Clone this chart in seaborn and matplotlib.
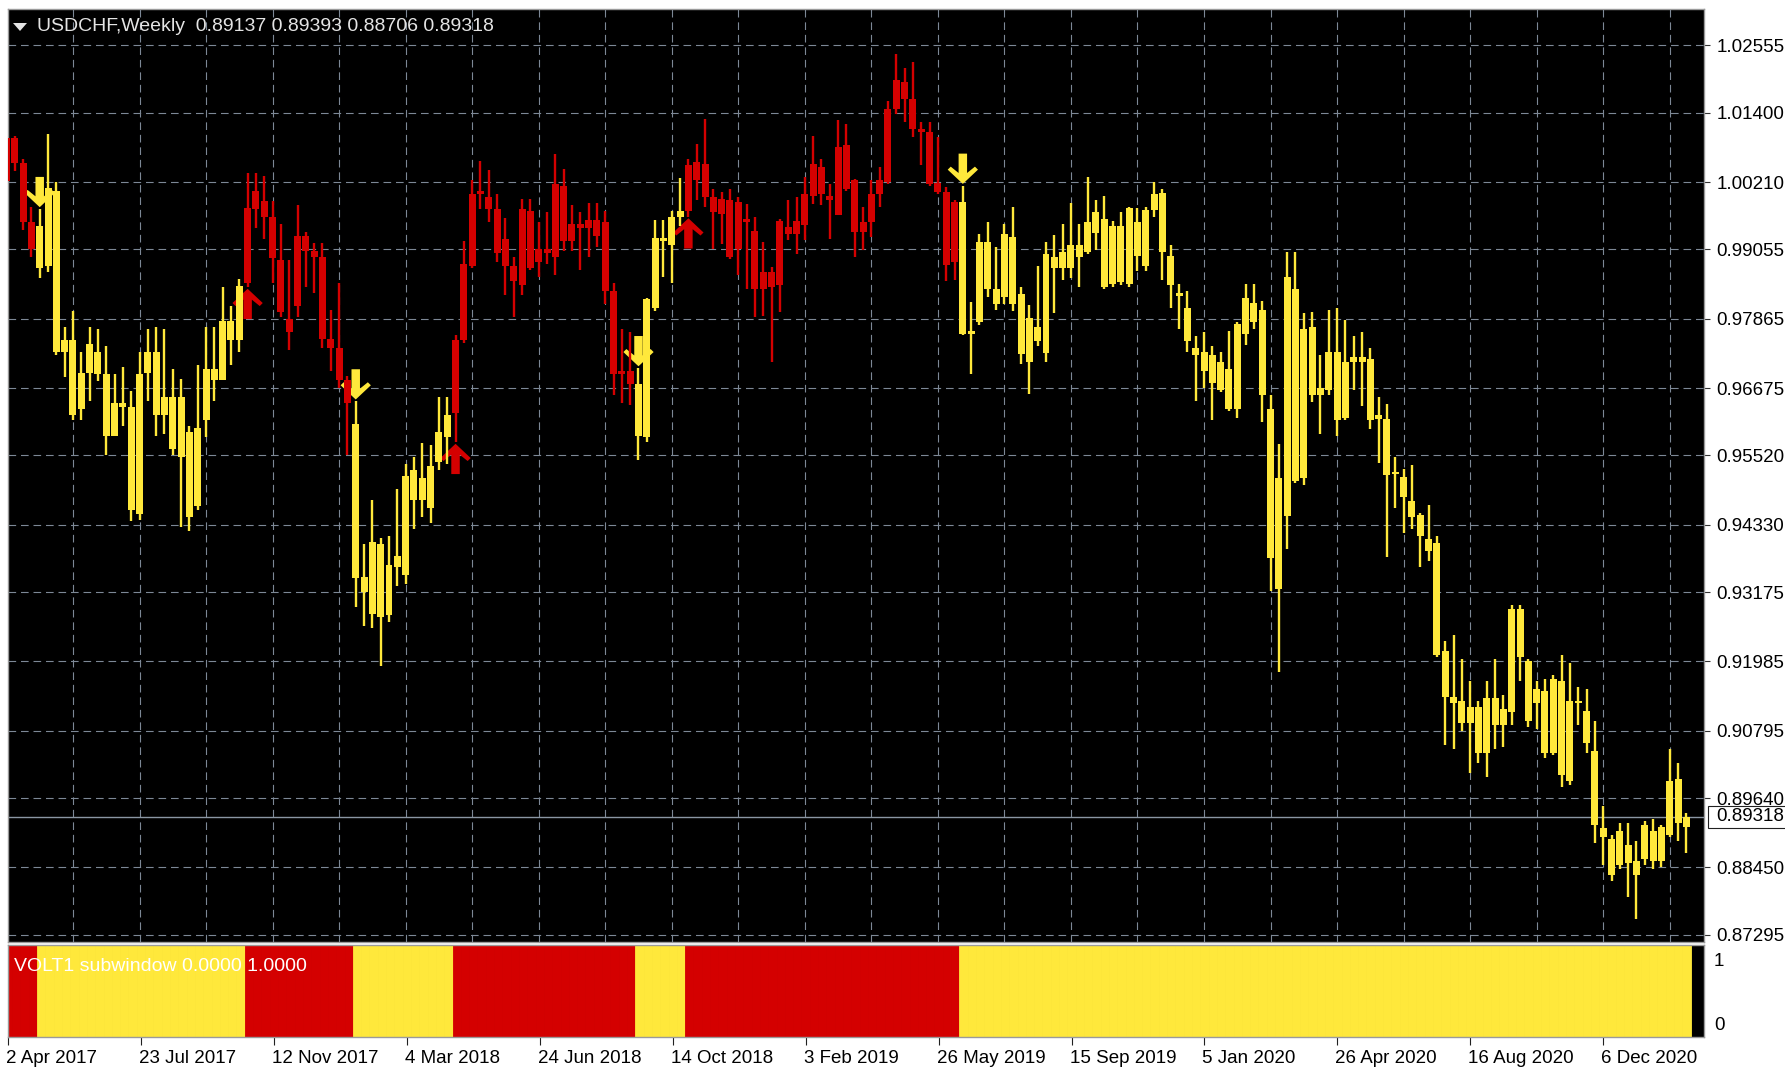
import numpy as np
import pandas as pd
import matplotlib
matplotlib.use("Agg")
import matplotlib.pyplot as plt
import matplotlib.transforms as mtransforms
from matplotlib.patches import Rectangle, Polygon
from matplotlib.path import Path
import seaborn as sns

start_date = "2017-04-02"

open_ = [
    1.0023, 1.0096, 1.0054, 0.9952, 0.9874, 0.9877, 1.0005, 0.9730, 0.9750, 0.9632,
    0.9694, 0.9730, 0.9691, 0.9586, 0.9642, 0.9635, 0.9452, 0.9694, 0.9730, 0.9622,
    0.9652, 0.9550, 0.9593, 0.9465, 0.9612, 0.9700, 0.9681, 0.9782, 0.9750, 0.9848,
    0.9975, 0.9988, 0.9962, 0.9887, 0.9786, 0.9809, 0.9929, 0.9903, 0.9893, 0.9751,
    0.9736, 0.9681, 0.9606, 0.9344, 0.9280, 0.9400, 0.9279, 0.9361, 0.9347, 0.9527,
    0.9475, 0.9462, 0.9540, 0.9583, 0.9625, 0.9750, 0.9877, 1.0001, 0.9995, 0.9975,
    0.9923, 0.9877, 0.9844, 0.9972, 0.9884, 0.9906, 0.9893, 1.0014, 0.9920, 0.9949,
    0.9943, 0.9956, 0.9952, 0.9835, 0.9691, 0.9697, 0.9674, 0.9583, 0.9805, 0.9926,
    0.9913, 0.9962, 0.9972, 1.0024, 1.0052, 0.9995, 0.9967, 0.9990, 0.9907, 0.9958,
    0.9938, 0.9838, 0.9867, 0.9844, 0.9944, 0.9932, 0.9947, 0.9998, 1.0047, 0.9998,
    0.9964, 1.0084, 1.0024, 0.9935, 0.9952, 1.0001, 1.0021, 1.0147, 1.0193, 1.0164,
    1.0113, 1.0107, 1.0019, 1.0004, 0.9884, 0.9987, 0.9761, 0.9781, 0.9918, 0.9838,
    0.9824, 0.9927, 0.9829, 0.9712, 0.9772, 0.9727, 0.9892, 0.9874, 0.9874, 0.9913,
    0.9901, 0.9934, 0.9958, 0.9847, 0.9946, 0.9847, 0.9952, 0.9877, 0.9973, 1.0003,
    0.9895, 0.9830, 0.9805, 0.9736, 0.9730, 0.9724, 0.9712, 0.9700, 0.9631, 0.9760,
    0.9814, 0.9802, 0.9631, 0.9322, 0.9448, 0.9838, 0.9514, 0.9772, 0.9655, 0.9664,
    0.9730, 0.9616, 0.9712, 0.9721, 0.9718, 0.9615, 0.9615, 0.9521, 0.9515, 0.9474,
    0.9450, 0.9409, 0.9402, 0.9217, 0.9138, 0.9131, 0.9093, 0.9121, 0.9042, 0.9135,
    0.9090, 0.9111, 0.9289, 0.9200, 0.9128, 0.9148, 0.9042, 0.9165, 0.8994, 0.9131,
    0.9114, 0.9045, 0.8913, 0.8894, 0.8850, 0.8884, 0.8856, 0.8860, 0.8908, 0.8856,
    0.8901, 0.8997, 0.89137]

high = [
    1.0109, 1.0100, 1.0060, 0.9979, 0.9975, 1.0103, 1.0021, 0.9772, 0.9800, 0.9730,
    0.9772, 0.9769, 0.9740, 0.9691, 0.9704, 0.9662, 0.9730, 0.9769, 0.9772, 0.9769,
    0.9700, 0.9684, 0.9603, 0.9707, 0.9772, 0.9772, 0.9841, 0.9808, 0.9855, 1.0036,
    1.0037, 1.0031, 0.9988, 0.9949, 0.9887, 0.9982, 0.9936, 0.9916, 0.9916, 0.9802,
    0.9848, 0.9688, 0.9645, 0.9400, 0.9475, 0.9410, 0.9413, 0.9495, 0.9537, 0.9550,
    0.9573, 0.9570, 0.9652, 0.9652, 0.9759, 0.9920, 1.0024, 1.0057, 1.0041, 1.0001,
    0.9959, 0.9893, 0.9992, 0.9992, 0.9952, 0.9969, 1.0070, 1.0044, 0.9982, 0.9969,
    0.9985, 0.9985, 0.9972, 0.9848, 0.9769, 0.9763, 0.9702, 0.9822, 0.9956, 0.9956,
    0.9972, 1.0028, 1.0060, 1.0087, 1.0130, 1.0010, 1.0004, 1.0010, 0.9995, 0.9984,
    0.9961, 0.9918, 0.9875, 0.9958, 0.9990, 0.9995, 1.0030, 1.0101, 1.0061, 1.0018,
    1.0127, 1.0121, 1.0027, 0.9978, 1.0024, 1.0047, 1.0161, 1.0241, 1.0216, 1.0227,
    1.0124, 1.0124, 1.0098, 1.0012, 0.9991, 1.0015, 0.9815, 0.9932, 0.9952, 0.9909,
    0.9949, 0.9978, 0.9841, 0.9811, 0.9877, 0.9919, 0.9931, 0.9949, 0.9985, 0.9949,
    1.0030, 0.9991, 0.9997, 0.9955, 0.9970, 0.9979, 0.9976, 0.9979, 1.0021, 1.0009,
    0.9913, 0.9847, 0.9835, 0.9757, 0.9763, 0.9739, 0.9730, 0.9766, 0.9781, 0.9847,
    0.9847, 0.9817, 0.9655, 0.9571, 0.9901, 0.9901, 0.9796, 0.9799, 0.9724, 0.9802,
    0.9805, 0.9784, 0.9757, 0.9763, 0.9736, 0.9653, 0.9640, 0.9550, 0.9529, 0.9536,
    0.9454, 0.9467, 0.9413, 0.9234, 0.9244, 0.9203, 0.9165, 0.9131, 0.9165, 0.9203,
    0.9141, 0.9296, 0.9296, 0.9203, 0.9165, 0.9169, 0.9176, 0.9210, 0.9196, 0.9155,
    0.9152, 0.9097, 0.8951, 0.8901, 0.8922, 0.8922, 0.8891, 0.8925, 0.8929, 0.8918,
    0.9049, 0.9025, 0.89393]

low = [
    1.0008, 1.0040, 0.9939, 0.9893, 0.9857, 0.9867, 0.9725, 0.9687, 0.9612, 0.9612,
    0.9645, 0.9680, 0.9553, 0.9586, 0.9603, 0.9439, 0.9442, 0.9645, 0.9586, 0.9589,
    0.9553, 0.9429, 0.9423, 0.9459, 0.9583, 0.9645, 0.9681, 0.9707, 0.9730, 0.9841,
    0.9943, 0.9923, 0.9848, 0.9789, 0.9733, 0.9789, 0.9841, 0.9831, 0.9736, 0.9697,
    0.9668, 0.9553, 0.9292, 0.9259, 0.9256, 0.9190, 0.9266, 0.9328, 0.9331, 0.9426,
    0.9446, 0.9436, 0.9527, 0.9537, 0.9575, 0.9745, 0.9874, 0.9975, 0.9952, 0.9884,
    0.9828, 0.9789, 0.9828, 0.9871, 0.9858, 0.9880, 0.9861, 0.9903, 0.9903, 0.9871,
    0.9893, 0.9910, 0.9812, 0.9655, 0.9642, 0.9639, 0.9544, 0.9575, 0.9800, 0.9858,
    0.9848, 0.9946, 0.9962, 0.9990, 0.9978, 0.9907, 0.9915, 0.9889, 0.9861, 0.9838,
    0.9789, 0.9792, 0.9712, 0.9798, 0.9921, 0.9898, 0.9921, 0.9984, 0.9981, 0.9924,
    0.9964, 1.0005, 0.9892, 0.9904, 0.9927, 0.9978, 1.0018, 1.0138, 1.0124, 1.0098,
    1.0050, 1.0015, 1.0001, 0.9852, 0.9853, 0.9758, 0.9692, 0.9775, 0.9824, 0.9801,
    0.9812, 0.9800, 0.9709, 0.9658, 0.9739, 0.9712, 0.9796, 0.9853, 0.9856, 0.9841,
    0.9898, 0.9904, 0.9838, 0.9841, 0.9844, 0.9841, 0.9868, 0.9868, 0.9961, 0.9853,
    0.9805, 0.9769, 0.9730, 0.9646, 0.9667, 0.9613, 0.9661, 0.9628, 0.9616, 0.9742,
    0.9769, 0.9610, 0.9319, 0.9181, 0.9391, 0.9505, 0.9502, 0.9643, 0.9589, 0.9655,
    0.9586, 0.9613, 0.9664, 0.9637, 0.9598, 0.9539, 0.9378, 0.9461, 0.9419, 0.9426,
    0.9361, 0.9371, 0.9207, 0.9056, 0.9049, 0.9080, 0.9007, 0.9025, 0.9001, 0.9049,
    0.9052, 0.9090, 0.9165, 0.9086, 0.9083, 0.9032, 0.9038, 0.8983, 0.8987, 0.9090,
    0.9042, 0.8887, 0.8850, 0.8822, 0.8843, 0.8795, 0.8757, 0.8850, 0.8843, 0.8846,
    0.8898, 0.8891, 0.88706]

close = [
    1.0096, 1.0054, 0.9952, 0.9907, 0.9946, 1.0011, 0.9730, 0.9750, 0.9622, 0.9694,
    0.9743, 0.9691, 0.9586, 0.9642, 0.9635, 0.9459, 0.9691, 0.9730, 0.9622, 0.9652,
    0.9563, 0.9652, 0.9446, 0.9599, 0.9700, 0.9681, 0.9782, 0.9750, 0.9843, 0.9976,
    1.0006, 0.9962, 0.9890, 0.9799, 0.9763, 0.9929, 0.9903, 0.9893, 0.9751, 0.9736,
    0.9681, 0.9642, 0.9341, 0.9318, 0.9403, 0.9275, 0.9364, 0.9380, 0.9517, 0.9475,
    0.9514, 0.9534, 0.9593, 0.9622, 0.9750, 0.9880, 1.0001, 1.0006, 0.9975, 0.9900,
    0.9877, 0.9851, 0.9975, 0.9874, 0.9906, 0.9900, 1.0018, 0.9920, 0.9949, 0.9943,
    0.9956, 0.9929, 0.9835, 0.9691, 0.9697, 0.9674, 0.9586, 0.9821, 0.9926, 0.9920,
    0.9962, 0.9972, 1.0050, 1.0055, 0.9995, 0.9970, 0.9992, 0.9892, 0.9987, 0.9952,
    0.9838, 0.9867, 0.9841, 0.9955, 0.9932, 0.9955, 1.0001, 1.0052, 1.0001, 0.9990,
    1.0081, 1.0010, 0.9935, 0.9952, 1.0001, 1.0024, 1.0147, 1.0197, 1.0164, 1.0113,
    1.0107, 1.0018, 1.0004, 0.9878, 0.9987, 0.9761, 0.9766, 0.9918, 0.9838, 0.9812,
    0.9932, 0.9812, 0.9726, 0.9788, 0.9748, 0.9898, 0.9874, 0.9901, 0.9913, 0.9892,
    0.9952, 0.9970, 0.9841, 0.9946, 0.9850, 0.9976, 0.9895, 0.9973, 1.0000, 0.9901,
    0.9844, 0.9826, 0.9748, 0.9724, 0.9697, 0.9676, 0.9664, 0.9631, 0.9778, 0.9823,
    0.9781, 0.9655, 0.9376, 0.9514, 0.9859, 0.9508, 0.9769, 0.9655, 0.9667, 0.9730,
    0.9613, 0.9712, 0.9721, 0.9712, 0.9612, 0.9622, 0.9519, 0.9524, 0.9481, 0.9447,
    0.9413, 0.9388, 0.9210, 0.9138, 0.9128, 0.9093, 0.9121, 0.9042, 0.9135, 0.9090,
    0.9117, 0.9289, 0.9207, 0.9097, 0.9152, 0.9042, 0.9169, 0.9004, 0.9131, 0.9128,
    0.9059, 0.8918, 0.8898, 0.8832, 0.8908, 0.8853, 0.8832, 0.8918, 0.8856, 0.8915,
    0.8994, 0.8922, 0.89318]

# VOLT1-Phasen: erster Balken jeder Phase, 1 = rot, 0 = gelb
regime_start = [0, 4, 29, 42, 54, 76, 82, 115]
regime_is_red = [1, 0, 1, 0, 1, 0, 1, 0]

price_ticks = [1.02555, 1.01400, 1.00210, 0.99055, 0.97865, 0.96675, 0.95520,
               0.94330, 0.93175, 0.91985, 0.90795, 0.89640, 0.88450, 0.87295]
volt_buffers = [0.0, 1.0]

RED = "#d40000"
YELLOW = "#ffe83b"
GRID = "#7d8896"

n = len(close)
assert len(open_) == n and len(high) == n and len(low) == n

df = pd.DataFrame({"open": open_, "high": high, "low": low, "close": close})
df["bar"] = np.arange(n)
df["date"] = pd.date_range(start_date, periods=n, freq="7D")
red = np.zeros(n, dtype=bool)
for s, r in zip(regime_start, regime_is_red):
    red[s:] = bool(r)
df["color"] = np.where(red, RED, YELLOW)

sns.set_theme(style="dark", rc={"axes.facecolor": "black", "figure.facecolor": "white"})
plt.rcParams["font.family"] = ["Liberation Sans", "DejaVu Sans"]
plt.rcParams["lines.scale_dashes"] = False

W, H = 1785, 1069
fig = plt.figure(figsize=(W / 100, H / 100), dpi=100, facecolor="white")


def px_box(x0, y0, x1, y1):
    return [x0 / W, 1 - y1 / H, (x1 - x0) / W, (y1 - y0) / H]


ax = fig.add_axes(px_box(8, 9, 1704, 942))
ax2 = fig.add_axes(px_box(8, 945, 1704, 1037))
for a in (ax, ax2):
    a.set_facecolor("black")
    for sp in a.spines.values():
        sp.set_color("#9a9a9a")
        sp.set_linewidth(1)

bar_px = 8.3165
x_first = 6.44
xlim = ((8 - x_first) / bar_px, (1704 - x_first) / bar_px)

# Kerzen
body_lo = np.minimum(df["open"], df["close"])
body_h = np.maximum((df["close"] - df["open"]).abs(), 0.00025)
ax.vlines(df["bar"], df["low"], df["high"], colors=df["color"], lw=1.7, zorder=3)
ax.bar(df["bar"], body_h, bottom=body_lo, width=0.84, color=df["color"],
       linewidth=0, zorder=4)

# Pfeile am Phasenwechsel
up_path = Path([(0, 0), (0.5, -0.47), (0.4, -0.57), (0.14, -0.36), (0.14, -1.0),
                (-0.14, -1.0), (-0.14, -0.36), (-0.4, -0.57), (-0.5, -0.47), (0, 0)],
               closed=True)
down_path = Path([(x, -y) for x, y in up_path.vertices], closed=True)
rows = []
for s, r in zip(regime_start[1:], regime_is_red[1:]):
    if r:
        rows.append({"bar": s, "price": low[s] - 0.0003, "kind": "up"})
    else:
        rows.append({"bar": s, "price": high[s] + 0.0003, "kind": "down"})
arrows = pd.DataFrame(rows)
sns.scatterplot(data=arrows, x="bar", y="price", hue="kind", style="kind",
                palette={"up": RED, "down": YELLOW},
                markers={"up": up_path, "down": down_path},
                s=1900, linewidth=0, legend=False, ax=ax, zorder=2)
ax.set_xlabel("")
ax.set_ylabel("")

# Gitter und Preisachse
ax.set_yticks(price_ticks)
ax.set_yticklabels([f"{t:.5f}" for t in price_ticks])
ax.set_xticks(np.arange(0, n + 8, 8))
ax.grid(True, which="major", color=GRID, linestyle=(0, (5.5, 3.5)), linewidth=0.8)
ax.set_axisbelow(True)
ax.tick_params(axis="x", length=0, labelbottom=False, bottom=False)
ax.tick_params(axis="y", left=False, right=True, labelleft=False, labelright=True,
               length=4, width=0.8, color="#303030", pad=5, labelsize=13.5,
               labelcolor="black")

last = close[-1]
ax.axhline(last, color="#8a96a3", lw=1, zorder=1.5)
ax.set_xlim(*xlim)
ax.set_ylim(0.87171, 1.03181)

half = 11 * (1.03181 - 0.87171) / 933
blend = mtransforms.blended_transform_factory(fig.transFigure, ax.transData)
ax.add_patch(Rectangle((1708 / W, last - half), 100 / W, 2 * half, transform=blend,
                       facecolor="white", edgecolor="#202020", lw=0.8,
                       clip_on=False, zorder=10))
ax.text(1716 / W, last, f"{last:.5f}", transform=blend, ha="left", va="center",
        fontsize=13.5, color="black", clip_on=False, zorder=11)

# Titel
title = (f"USDCHF,Weekly  {open_[-1]:.5f} {high[-1]:.5f} "
         f"{low[-1]:.5f} {close[-1]:.5f}")
fig.text(37 / W, 1 - 31 / H, title, fontsize=14, color="#e4e4e4", va="baseline")
fig.patches.append(Polygon([(13 / W, 1 - 23 / H), (27 / W, 1 - 23 / H),
                            (20 / W, 1 - 31 / H)], closed=True,
                           transform=fig.transFigure, facecolor="#e4e4e4",
                           edgecolor="none"))

# Unterfenster VOLT1
ax2.bar(df["bar"], volt_buffers[1] - volt_buffers[0], bottom=volt_buffers[0],
        width=1.0, color=df["color"], edgecolor=df["color"], linewidth=0.6)
ax2.set_xlim(*xlim)
ax2.set_ylim(0, 1)
ax2.set_yticks([])
ax2.set_xticks(np.arange(0, n, 16))
ax2.tick_params(axis="x", bottom=True, length=6, width=0.8, color="#202020",
                direction="out", labelbottom=False)
ax2.grid(False)
fig.text(14 / W, 1 - 971 / H,
         f"VOLT1 subwindow {volt_buffers[0]:.4f} {volt_buffers[1]:.4f}",
         fontsize=14, color="white", va="baseline")
fig.text(1714 / W, 1 - 961 / H, "1", fontsize=13.5, color="black", va="center")
fig.text(1714 / W, 1 - 1026 / H, "0", fontsize=13.5, color="black", va="center")

# Datumsbeschriftung
date_tr = mtransforms.blended_transform_factory(ax2.transData, fig.transFigure) + \
    mtransforms.ScaledTranslation(-2 / 100, 0, fig.dpi_scale_trans)
for i in range(0, n, 16):
    d = df["date"][i]
    ax2.text(i, 1 - 1063 / H, f"{d.day} {d.strftime('%b %Y')}", transform=date_tr,
             ha="left", va="baseline", fontsize=13.5, color="black", clip_on=False)

fig.savefig("out.png", dpi=100, facecolor="white")
